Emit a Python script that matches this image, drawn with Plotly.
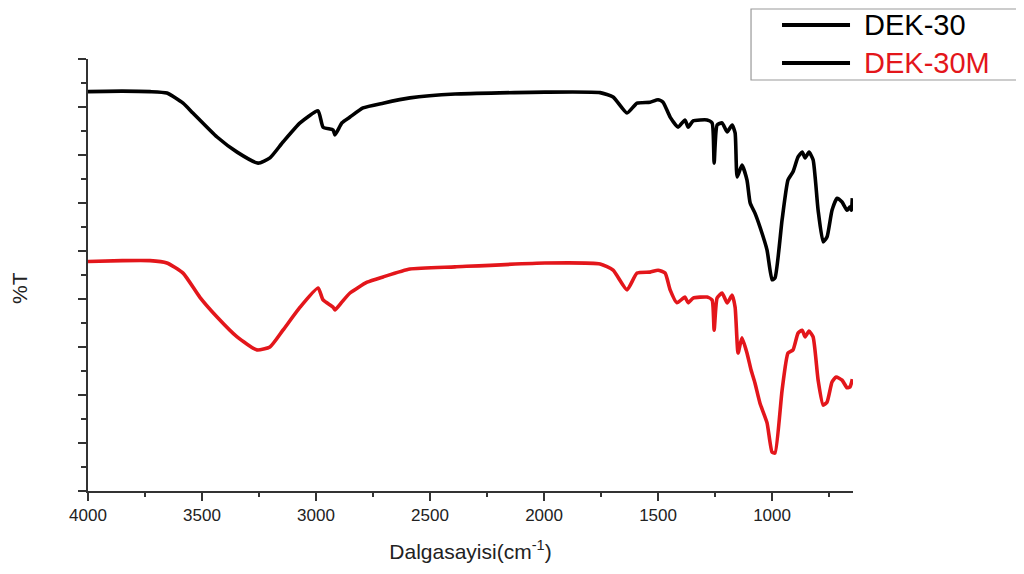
import plotly.graph_objects as go

# ---- data ----
wn_dek30 = [4000, 3850, 3728, 3654, 3583, 3540, 3434, 3346, 3254, 3202, 3145, 3070, 2991, 2969,
            2925, 2917, 2886, 2851, 2794, 2706, 2588, 2390, 1996, 1754, 1697, 1636, 1592, 1535,
            1500, 1478, 1447, 1412, 1382, 1368, 1346, 1285, 1263, 1254, 1241, 1219, 1197, 1175,
            1162, 1153, 1132, 1110, 1096, 1075, 1053, 1022, 1000, 987, 956, 930, 908, 886, 868,
            855, 838, 820, 798, 776, 759, 737, 715, 693, 671, 658, 652, 648]
t_dek30 = [83.2, 83.3, 83.2, 82.9, 80.8, 78.75, 73.75, 70.6, 68.3, 69.4, 72.7, 76.7, 79.2, 75.8,
           75.2, 74.2, 76.7, 77.9, 79.8, 80.8, 81.9, 82.7, 83.1, 83.0, 82.1, 78.75, 80.8, 81.0,
           81.5, 81.0, 77.9, 75.8, 77.3, 75.8, 77.1, 77.3, 76.7, 68.3, 76.25, 76.7, 74.8, 76.25,
           74.6, 65.4, 67.9, 64.8, 60.0, 57.9, 55.0, 50.2, 44.0, 44.4, 56.5, 64.8, 66.5, 69.6, 70.6,
           69.4, 70.6, 69.0, 58.5, 51.9, 52.9, 58.5, 61.0, 60.2, 58.5, 59.2, 58.5, 61.0]

wn_dek30m = [4000, 3850, 3728, 3654, 3583, 3510, 3434, 3346, 3259, 3202, 3145, 3070, 2991, 2969,
             2925, 2917, 2886, 2851, 2776, 2706, 2588, 2390, 1996, 1754, 1697, 1636, 1592, 1535,
             1500, 1469, 1447, 1417, 1382, 1368, 1346, 1285, 1263, 1254, 1241, 1219, 1197, 1175,
             1162, 1149, 1132, 1110, 1092, 1075, 1053, 1022, 1000, 987, 956, 930, 908, 886, 868,
             855, 838, 820, 798, 776, 759, 737, 719, 693, 671, 658, 652, 648]
t_dek30m = [47.8, 48.0, 48.0, 47.5, 45.4, 40.4, 36.25, 32.1, 29.4, 30.0, 33.5, 38.3, 42.3, 39.8,
            38.3, 37.7, 39.4, 41.25, 43.5, 44.6, 46.25, 46.7, 47.5, 47.3, 46.0, 41.9, 45.4, 45.6,
            46.0, 45.4, 41.9, 39.2, 40.4, 39.2, 40.2, 40.4, 39.8, 33.5, 40.2, 41.25, 39.2, 40.8,
            38.3, 28.75, 31.9, 28.75, 25.2, 22.5, 18.3, 14.2, 8.1, 7.9, 21.0, 28.75, 29.4, 32.9, 33.5,
            32.1, 33.3, 32.1, 23.1, 17.9, 18.5, 22.7, 23.75, 23.1, 21.5, 21.7, 22.5, 23.3]

series_names = ["DEK-30", "DEK-30M"]
series_colors = ["#000000", "#e3161b"]
x_ticks = [4000, 3500, 3000, 2500, 2000, 1500, 1000]

FONT = "Arial, Liberation Sans, sans-serif"
TXT = "#222222"

fig = go.Figure()
fig.add_trace(go.Scatter(x=wn_dek30, y=t_dek30, mode="lines", name=series_names[0],
                         line=dict(color=series_colors[0], width=3.6, shape="spline", smoothing=0.5),
                         showlegend=False))
fig.add_trace(go.Scatter(x=wn_dek30m, y=t_dek30m, mode="lines", name=series_names[1],
                         line=dict(color=series_colors[1], width=3.6, shape="spline", smoothing=0.5),
                         showlegend=False))

# the page body adds an 8px margin, so the figure is 8px smaller and margins shifted
fig.update_layout(
    width=1016, height=566,
    margin=dict(l=80, r=171, t=51, b=83),
    paper_bgcolor="white", plot_bgcolor="white",
    font=dict(family=FONT, color=TXT),
    showlegend=False,
)
fig.update_xaxes(
    range=[4000, 645], tickvals=x_ticks, ticktext=[str(v) for v in x_ticks],
    showgrid=False, zeroline=False, showline=True, linecolor="#333333", linewidth=1.5,
    ticks="outside", ticklen=8, tickwidth=1.5, tickcolor="#333333",
    minor=dict(dtick=250, tick0=4000, ticks="outside", ticklen=4, tickwidth=1.5, tickcolor="#333333"),
    tickfont=dict(size=17, color=TXT), automargin=False,
    title=dict(text="Dalgasayisi(cm<sup>-1</sup>)", font=dict(size=21, color=TXT), standoff=20),
)
fig.update_yaxes(
    range=[0, 90], dtick=10, tick0=0, showticklabels=False,
    showgrid=False, zeroline=False, showline=True, linecolor="#333333", linewidth=1.5,
    ticks="outside", ticklen=8, tickwidth=1.5, tickcolor="#333333",
    minor=dict(dtick=5, tick0=0, ticks="outside", ticklen=5, tickwidth=1.5, tickcolor="#333333"),
    automargin=False,
)

# y-axis title (sits a little below the plot's centre in the reference)
fig.add_annotation(xref="paper", yref="paper", x=-0.0889, y=0.47, text="%T", textangle=-90,
                   showarrow=False, xanchor="center", yanchor="middle",
                   font=dict(size=21, color=TXT, family=FONT))

# ---- legend (drawn manually: black line samples, coloured labels) ----
fig.add_shape(type="rect", xref="paper", yref="paper", x0=0.8667, x1=1.2314, y0=0.9514, y1=1.1157,
              line=dict(color="#9a9a9a", width=1.2), fillcolor="white", layer="above")
legend_y = [1.0787, 0.9907]
for name, col, yy in zip(series_names, series_colors, legend_y):
    fig.add_shape(type="line", xref="paper", yref="paper", x0=0.9072, x1=0.9961, y0=yy, y1=yy,
                  line=dict(color="#000000", width=4))
    fig.add_annotation(xref="paper", yref="paper", x=1.0118, y=yy, xanchor="left", yanchor="middle",
                       text=name, showarrow=False, font=dict(size=29, color=col, family=FONT))

fig.write_html("out.html")
